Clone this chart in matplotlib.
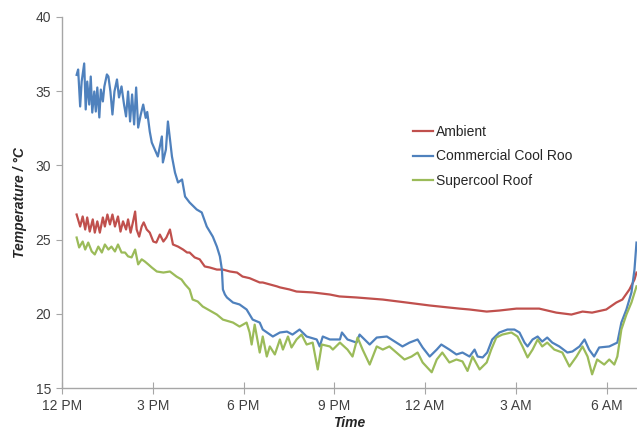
import matplotlib
matplotlib.use('Agg')
from matplotlib import pyplot as plt

# --- Datos (minutos desde las 12 PM, °C) ---
blue_min = [29, 32, 36, 39, 44, 47, 50, 54, 57, 60, 64, 67, 70, 74, 77, 81, 84, 89, 92, 96,
            100, 104, 109, 113, 118, 123, 127, 131, 135, 139, 143, 147, 151, 156, 161, 166, 169,
            174, 178, 184, 190, 198, 200, 206, 210, 218, 224, 230, 238, 244, 253, 267, 277, 287,
            299, 307, 313, 317, 319, 323, 327, 339, 352, 366, 378, 392, 398, 418, 432, 446, 457,
            471, 485, 505, 511, 517, 531, 551, 555, 566, 584, 590, 610, 624, 644, 663, 675, 689,
            705, 715, 729, 743, 752, 768, 782, 794, 808, 818, 824, 834, 843, 853, 867, 883, 897,
            907, 917, 923, 933, 943, 952, 962, 972, 986, 1002, 1012, 1026, 1036, 1045, 1055,
            1065, 1085, 1101, 1109, 1119, 1129, 1135, 1139]
blue_temp = [36.1, 36.46, 33.97, 35.65, 36.87, 33.77, 35.65, 34.10, 35.99, 33.56, 34.98, 33.63,
             35.25, 33.23, 35.11, 34.31, 35.32, 36.13, 35.99, 34.98, 33.43, 34.98, 35.79, 34.58,
             35.32, 34.10, 33.30, 34.98, 32.96, 34.78, 32.76, 35.25, 32.55, 33.4, 34.10, 33.2,
             33.6, 32.28, 31.54, 31.07, 30.60, 31.95, 30.20, 31.07, 32.96, 30.60, 29.52, 28.85,
             29.05, 27.90, 27.50, 27.03, 26.83, 25.88, 25.20, 24.53, 23.87, 22.98, 21.64, 21.30,
             21.10, 20.76, 20.63, 20.29, 19.61, 19.41, 18.94, 18.47, 18.74, 18.80, 18.60, 18.94,
             18.47, 18.27, 17.80, 18.47, 18.27, 18.27, 18.74, 18.27, 18.06, 18.60, 17.93, 18.40,
             18.47, 18.06, 17.80, 18.06, 18.27, 17.73, 17.12, 17.59, 17.93, 17.59, 17.26, 17.39,
             17.12, 17.59, 17.12, 17.06, 17.39, 18.27, 18.74, 18.94, 18.94, 18.74, 18.06, 17.80,
             18.27, 18.47, 18.13, 18.40, 18.06, 17.80, 17.39, 17.46, 17.80, 18.27, 17.59, 17.12,
             17.73, 17.80, 18.06, 19.41, 20.29, 21.44, 22.98, 24.8]

red_min = [29, 36, 41, 46, 50, 55, 61, 65, 70, 75, 81, 85, 90, 95, 100, 105, 111, 116, 121,
           127, 131, 136, 141, 145, 148, 153, 158, 162, 168, 174, 181, 187, 194, 201, 207, 214,
           220, 230, 240, 248, 253, 263, 273, 283, 293, 307, 319, 333, 347, 358, 372, 392, 398,
           426, 432, 451, 465, 497, 531, 550, 584, 636, 683, 729, 768, 788, 808, 842, 867, 901,
           946, 980, 1010, 1032, 1051, 1079, 1099, 1111, 1125, 1135, 1139]
red_temp = [26.69, 25.88, 26.56, 25.68, 26.49, 25.54, 26.36, 25.47, 26.23, 25.47, 26.49, 25.88,
            26.69, 26.02, 26.69, 25.88, 26.56, 25.54, 26.23, 25.68, 26.36, 25.47, 26.23, 26.89,
            25.68, 25.20, 25.88, 26.16, 25.68, 25.47, 24.87, 24.80, 25.34, 24.87, 25.14, 25.68,
            24.67, 24.53, 24.33, 24.13, 24.13, 23.80, 23.67, 23.19, 23.12, 22.98, 22.98, 22.85,
            22.78, 22.51, 22.40, 22.11, 22.11, 21.85, 21.78, 21.64, 21.50, 21.44, 21.30, 21.17,
            21.10, 20.96, 20.76, 20.56, 20.42, 20.35, 20.29, 20.15, 20.22, 20.35, 20.35, 20.08,
            19.95, 20.15, 20.08, 20.29, 20.76, 20.96, 21.64, 22.31, 22.78]

green_min = [29, 34, 41, 46, 52, 59, 65, 72, 79, 85, 92, 98, 105, 111, 118, 125, 131, 138, 145,
             151, 158, 164, 171, 178, 188, 201, 214, 227, 237, 244, 253, 259, 269, 279, 293, 307,
             319, 339, 352, 366, 372, 376, 382, 392, 398, 406, 412, 422, 432, 438, 448, 455, 465,
             475, 485, 497, 507, 515, 531, 537, 551, 566, 576, 586, 596, 610, 624, 636, 649, 663,
             679, 693, 705, 715, 733, 743, 754, 768, 782, 794, 804, 814, 828, 842, 851, 861, 873,
             891, 903, 913, 923, 933, 943, 952, 962, 976, 992, 1006, 1020, 1032, 1042, 1051,
             1061, 1075, 1085, 1095, 1101, 1109, 1119, 1129, 1139]
green_temp = [25.14, 24.47, 24.87, 24.33, 24.80, 24.20, 24.00, 24.53, 24.13, 24.67, 24.33, 24.53,
              24.20, 24.67, 24.13, 24.13, 23.87, 23.80, 24.33, 23.33, 23.67, 23.53, 23.33, 23.12,
              22.85, 22.78, 22.85, 22.51, 22.31, 21.98, 21.64, 20.96, 20.83, 20.49, 20.22, 19.95,
              19.61, 19.41, 19.14, 19.41, 18.74, 17.93, 19.27, 17.39, 18.47, 17.12, 17.80, 17.26,
              18.27, 17.59, 18.47, 17.73, 18.27, 18.60, 17.93, 18.06, 16.25, 17.93, 17.80, 17.59,
              18.06, 17.59, 17.12, 18.40, 17.59, 16.58, 17.80, 17.59, 17.80, 17.39, 16.92, 17.12,
              17.39, 16.72, 16.06, 16.92, 17.39, 16.72, 16.92, 16.79, 16.15, 17.12, 16.25, 16.72,
              17.59, 18.40, 18.60, 18.74, 18.47, 17.80, 17.06, 17.59, 18.27, 17.80, 18.06, 17.59,
              17.39, 16.45, 17.12, 17.80, 17.12, 15.92, 16.92, 16.58, 16.92, 16.58, 17.12, 18.94,
              19.95, 20.76, 21.85]

tick_min = [0, 180, 360, 540, 720, 900, 1080]
tick_labels = ['12 PM', '3 PM', '6 PM', '9 PM', '12 AM', '3 AM', '6 AM']

plt.rcParams['font.family'] = ['Liberation Sans', 'DejaVu Sans']

fig = plt.figure(figsize=(6.37, 4.33), dpi=100)
ax = fig.add_axes([62 / 637, 1 - 388 / 433, 1 - 62 / 637, (388 - 17) / 433])

ax.plot(red_min, red_temp, color='#C0504D', lw=1.6, label='Ambient')
ax.plot(blue_min, blue_temp, color='#4F81BD', lw=1.6, label='Commercial Cool Roo')
ax.plot(green_min, green_temp, color='#9BBB59', lw=1.6, label='Supercool Roof')

ax.set_xlim(0, 1140)
ax.set_ylim(15, 40)
ax.set_yticks([15, 20, 25, 30, 35, 40])
ax.set_xticks(tick_min)
ax.set_xticklabels(tick_labels)

for s in ['top', 'right']:
    ax.spines[s].set_visible(False)
for s in ['left', 'bottom']:
    ax.spines[s].set_color('#A6A6A6')
    ax.spines[s].set_linewidth(1.0)

ax.tick_params(axis='y', direction='out', length=4, color='#A6A6A6', labelsize=10,
               labelcolor='#404040', pad=4)
ax.tick_params(axis='x', direction='inout', length=8, color='#A6A6A6', labelsize=10,
               labelcolor='#404040', pad=4)

ax.set_ylabel('Temperature / °C', fontsize=10, fontweight='bold', fontstyle='italic',
              color='#262626', labelpad=6)
ax.set_xlabel('Time', fontsize=10, fontweight='bold', fontstyle='italic',
              color='#262626', labelpad=2)

leg = ax.legend(loc='upper left', bbox_to_anchor=(0.6, 0.724), frameon=False, fontsize=10,
                handlelength=1.5, handletextpad=0.2, labelspacing=0.75, borderaxespad=0)
for t in leg.get_texts():
    t.set_color('#262626')

fig.savefig('out.png', dpi=100)
